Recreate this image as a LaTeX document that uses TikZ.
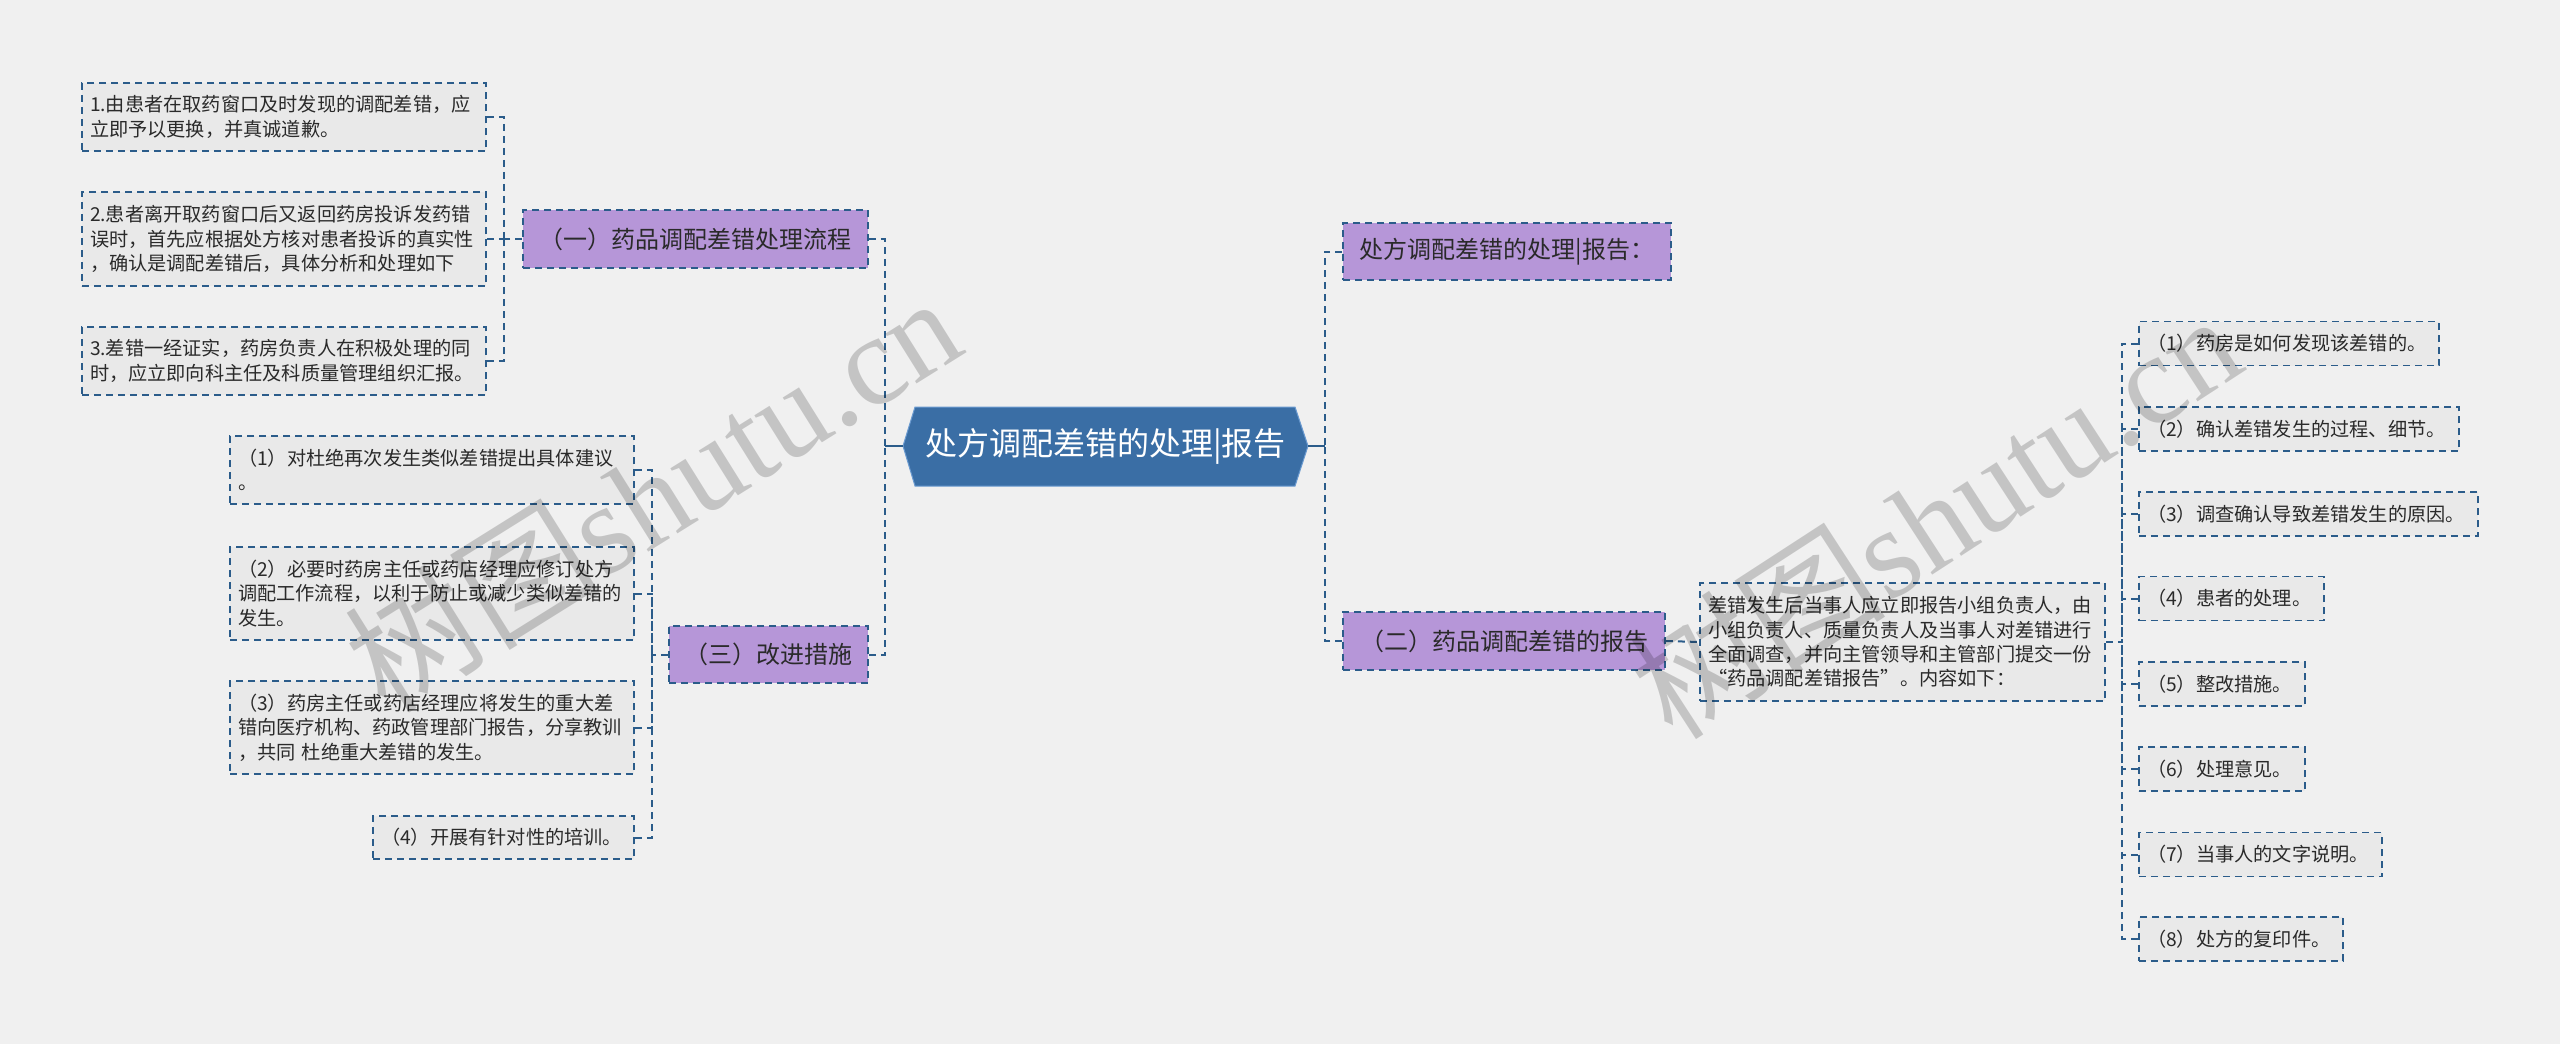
\documentclass[tikz,border=0pt]{standalone}
\usepackage{fontspec}
\setmainfont{Noto Sans CJK SC}
\newfontfamily\wmfont{Liberation Serif}
\definecolor{bgc}{HTML}{F0F0F0}
\definecolor{dashblue}{HTML}{2B5C8A}
\definecolor{boxgray}{HTML}{E9E9E9}
\definecolor{purp}{HTML}{B696D8}
\definecolor{hexblue}{HTML}{3A6EA5}
\definecolor{hexedge}{HTML}{6A9AD0}
\definecolor{textdark}{HTML}{2A2A2A}
\tikzset{
  leaf/.style={draw=dashblue, dash pattern=on 3.5pt off 2.5pt, line width=0.9pt,
    fill=boxgray, font=\fontsize{9.6pt}{12.2pt}\selectfont, text=textdark,
    align=left, inner xsep=4pt, inner ysep=0pt, anchor=center},
  topic/.style={draw=dashblue, dash pattern=on 3.5pt off 2.5pt, line width=0.9pt,
    fill=purp, font=\fontsize{12pt}{14pt}\selectfont, text=textdark,
    inner sep=0pt, align=center, anchor=center},
  conn/.style={draw=dashblue, dash pattern=on 3.5pt off 2.5pt, line width=1pt},
  solidconn/.style={draw=dashblue, line width=1.1pt},
  wm/.style={font=\fontsize{64pt}{64pt}\selectfont, text=black, text opacity=0.18, inner sep=0pt}
}
\begin{document}
\begin{tikzpicture}[x=0.5pt,y=-0.5pt]
\useasboundingbox (0,0) rectangle (2560,1044);
\fill[bgc] (0,0) rectangle (2560,1044);

% central hexagon
\fill[hexblue, draw=hexedge, line width=0.5pt] (903,446) -- (915,407) -- (1295,407) -- (1308,446) -- (1295,486) -- (915,486) -- cycle;
\node[text=white, font=\fontsize{16pt}{18pt}\selectfont, inner sep=0pt] (root) at (1105.5,446) {处方调配差错的处理|报告};
\coordinate (rootW) at (903,446);
\coordinate (rootE) at (1308,446);
\coordinate (jT) at (885,446);
\coordinate (jT2) at (1325,446);

% left topics
\node[topic, minimum width=172.5pt, minimum height=29pt] (P1) at (695.5,239) {（一）药品调配差错处理流程};
\node[topic, minimum width=99.5pt, minimum height=28.5pt] (P3) at (768.5,654.5) {（三）改进措施};

% right topics
\node[topic, minimum width=164pt, minimum height=28.5pt] (P0) at (1507,251.5) {处方调配差错的处理|报告：};
\node[topic, minimum width=161pt, minimum height=29pt] (P2) at (1504,641) {（二）药品调配差错的报告};

% (一) leaves
\node[leaf, text width=194pt, minimum height=34pt] (L1) at (284,117) {1.由患者在取药窗口及时发现的调配差错，应\\立即予以更换，并真诚道歉。};
\node[leaf, text width=194pt, minimum height=47pt] (L2) at (284,239) {2.患者离开取药窗口后又返回药房投诉发药错\\误时，首先应根据处方核对患者投诉的真实性\\，确认是调配差错后，具体分析和处理如下};
\node[leaf, text width=194pt, minimum height=34pt] (L3) at (284,361) {3.差错一经证实，药房负责人在积极处理的同\\时，应立即向科主任及科质量管理组织汇报。};

% (三) leaves
\node[leaf, text width=194pt, minimum height=34pt] (C1) at (432,470) {（1）对杜绝再次发生类似差错提出具体建议\\。};
\node[leaf, text width=194pt, minimum height=46.5pt] (C2) at (432,593.5) {（2）必要时药房主任或药店经理应修订处方\\调配工作流程，以利于防止或减少类似差错的\\发生。};
\node[leaf, text width=194pt, minimum height=46.5pt] (C3) at (432,727.5) {（3）药房主任或药店经理应将发生的重大差\\错向医疗机构、药政管理部门报告，分享教训\\，共同 杜绝重大差错的发生。};
\node[leaf, text width=122.5pt, minimum height=21.5pt] (C4) at (503.5,837.5) {（4）开展有针对性的培训。};

% (二) leaves
\node[leaf, text width=194.5pt, minimum height=59pt] (B) at (1902.5,642) {差错发生后当事人应立即报告小组负责人，由\\小组负责人、质量负责人及当事人对差错进行\\全面调查，并向主管领导和主管部门提交一份\\“药品调配差错报告”。内容如下：};

\node[leaf, text width=142pt, minimum height=22pt] (R1) at (2289,343.5) {（1）药房是如何发现该差错的。};
\node[leaf, text width=152pt, minimum height=22pt] (R2) at (2299,429) {（2）确认差错发生的过程、细节。};
\node[leaf, text width=161.5pt, minimum height=22pt] (R3) at (2308.5,514) {（3）调查确认导致差错发生的原因。};
\node[leaf, text width=84.5pt, minimum height=22pt] (R4) at (2231.5,598.5) {（4）患者的处理。};
\node[leaf, text width=75pt, minimum height=22pt] (R5) at (2222,684) {（5）整改措施。};
\node[leaf, text width=75pt, minimum height=22pt] (R6) at (2222,769) {（6）处理意见。};
\node[leaf, text width=113.5pt, minimum height=22pt] (R7) at (2260.5,854.5) {（7）当事人的文字说明。};
\node[leaf, text width=94pt, minimum height=22pt] (R8) at (2241,939) {（8）处方的复印件。};

% junctions
\coordinate (jL) at (504,239);
\coordinate (jC) at (652,654.5);
\coordinate (jR) at (2122,642);

% connectors: trunk
\draw[solidconn] (rootW) -- (jT);
\draw[solidconn] (rootE) -- (jT2);
\draw[conn] (P1.east) -| (jT);
\draw[conn] (P3.east) -| (jT);
\draw[conn] (P0.west) -| (jT2);
\draw[conn] (P2.west) -| (jT2);

% connectors: (一)
\draw[conn] (P1.west) -- (jL);
\draw[conn] (L1.east) -| (jL);
\draw[conn] (L2.east) -- (jL);
\draw[conn] (L3.east) -| (jL);

% connectors: (三)
\draw[conn] (P3.west) -- (jC);
\draw[conn] (C1.east) -| (jC);
\draw[conn] (C2.east) -| (jC);
\draw[conn] (C3.east) -| (jC);
\draw[conn] (C4.east) -| (jC);

% connectors: (二)
\draw[conn] (P2.east) -- (B.west);
\draw[conn] (B.east) -- (jR);
\draw[conn] (R1.west) -| (jR);
\draw[conn] (R2.west) -| (jR);
\draw[conn] (R3.west) -| (jR);
\draw[conn] (R4.west) -| (jR);
\draw[conn] (R5.west) -| (jR);
\draw[conn] (R6.west) -| (jR);
\draw[conn] (R7.west) -| (jR);
\draw[conn] (R8.west) -| (jR);

% watermarks
\node[wm, rotate=32] (wm1) at (652,492) {树图{\wmfont shutu.cn}};
\node[wm, rotate=33] (wm2) at (1935,515) {树图{\wmfont shutu.cn}};
\end{tikzpicture}
\end{document}
